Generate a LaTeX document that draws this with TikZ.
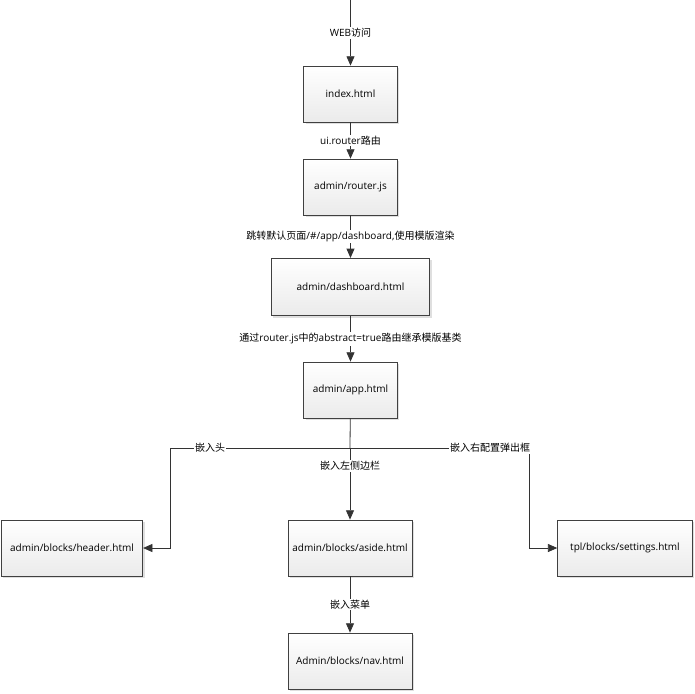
\documentclass[tikz,border=0pt]{standalone}
\usepackage{fontspec}
\setmainfont{Open Sans}
\newfontfamily\cjk{Noto Sans CJK SC}
\usetikzlibrary{arrows.meta,shadows}
\begin{document}
\begin{tikzpicture}[x=0.75pt,y=-0.75pt,
  box/.style={draw=black!75,line width=0.6pt,top color=white,bottom color=black!8,drop shadow={shadow xshift=1.5pt,shadow yshift=-1.5pt,opacity=0.25},font=\fontsize{7.5}{9}\selectfont,inner sep=0pt},
  ar/.style={draw=black!80,line width=0.6pt,-{Triangle[length=7pt,width=6pt]}},
  ln/.style={draw=black!80,line width=0.6pt},
  lb/.style={fill=white,inner sep=1pt,font=\fontsize{7.5}{9}\selectfont}]
\useasboundingbox (0,0) rectangle (695,693);
\newcommand\bx[5]{\node[box,minimum width=#3*0.75pt,minimum height=#4*0.75pt] (#5) at (#1,#2) {};}
\node[box,minimum width=70pt,minimum height=42pt] (idx) at (350.5,94) {index.html};
\node[box,minimum width=70pt,minimum height=42pt] (rt) at (350.5,187) {admin/router.js};
\node[box,minimum width=119pt,minimum height=43pt] (db) at (350.5,287) {admin/dashboard.html};
\node[box,minimum width=70pt,minimum height=42pt] (app) at (350.5,390) {admin/app.html};
\node[box,minimum width=106pt,minimum height=42pt] (hd) at (72,548) {admin/blocks/header.html};
\node[box,minimum width=93pt,minimum height=42pt] (as) at (350,548) {admin/blocks/aside.html};
\node[box,minimum width=101pt,minimum height=42pt] (st) at (625,548) {tpl/blocks/settings.html};
\node[box,minimum width=93pt,minimum height=42pt] (nv) at (350,661) {Admin/blocks/nav.html};
\coordinate (top) at (350.5,0);
\coordinate (j) at (350,448);
\coordinate (jl) at (170,448);
\coordinate (jr) at (529,448);
\draw[ar] (top) -- node[lb,pos=0.5]{WEB{\cjk 访问}} (idx);
\draw[ar] (idx) -- node[lb,pos=0.5]{ui.router{\cjk 路由}} (rt);
\draw[ar] (rt) -- node[lb,pos=0.5]{{\cjk 跳转默认页面}/\#/app/dashboard,{\cjk 使用模版渲染}} (db);
\draw[ar] (db) -- node[lb,pos=0.5]{{\cjk 通过}router.js{\cjk 中的}abstract=true{\cjk 路由继承模版基类}} (app);
\draw[ln] (app) -- (j);
\draw[ar] (j) -- node[lb,pos=0.25]{\cjk 嵌入左侧边栏} (as);
\draw[ar] (jr) -- (jl) |- (hd.east);
\draw[ar] (j) -- (jr) |- (st.west);
\node[lb] at (210,448) {\cjk 嵌入头};
\node[lb] at (490,448) {\cjk 嵌入右配置弹出框};
\draw[ar] (as) -- node[lb,pos=0.5]{\cjk 嵌入菜单} (nv);
\end{tikzpicture}
\end{document}
